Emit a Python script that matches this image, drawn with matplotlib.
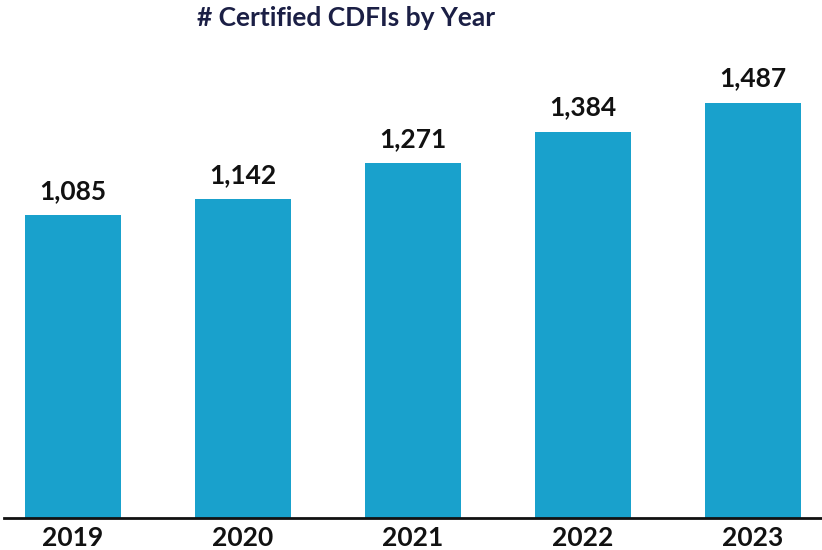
import matplotlib.pyplot as plt

years = ["2019", "2020", "2021", "2022", "2023"]
cdfis = [1085, 1142, 1271, 1384, 1487]

BAR = "#19a1cc"
NAVY = "#1b1f45"
INK = "#111111"

plt.rcParams["font.family"] = ["Lato", "DejaVu Sans"]

fig = plt.figure(figsize=(8.22, 5.5), dpi=100)
ax = fig.add_axes([4 / 822, 32 / 550, 818 / 822, 468 / 550])

x = range(len(years))
bars = ax.bar(x, cdfis, width=0.565, color=BAR, zorder=2)
ax.set_xlim(-0.406, len(years) - 1 + 0.406)
ax.set_ylim(0, 1677)

for b, v in zip(bars, cdfis):
    ax.annotate(f"{v:,}", (b.get_x() + b.get_width() / 2, v),
                xytext=(0, 9), textcoords="offset points",
                ha="center", va="bottom", fontsize=19, fontweight="bold",
                color=INK)

ax.set_xticks(list(x))
ax.set_xticklabels(years, fontsize=19, fontweight="bold", color=INK)
ax.tick_params(axis="x", length=0, pad=6)
ax.set_yticks([])
for s in ("top", "right", "left"):
    ax.spines[s].set_visible(False)
ax.spines["bottom"].set_linewidth(2)
ax.spines["bottom"].set_color(INK)

fig.text(346 / 822, 1 - 18 / 550, "# Certified CDFIs by Year", ha="center",
         va="center", fontsize=19, fontweight="bold", color=NAVY)

fig.savefig("out.png", dpi=100)
